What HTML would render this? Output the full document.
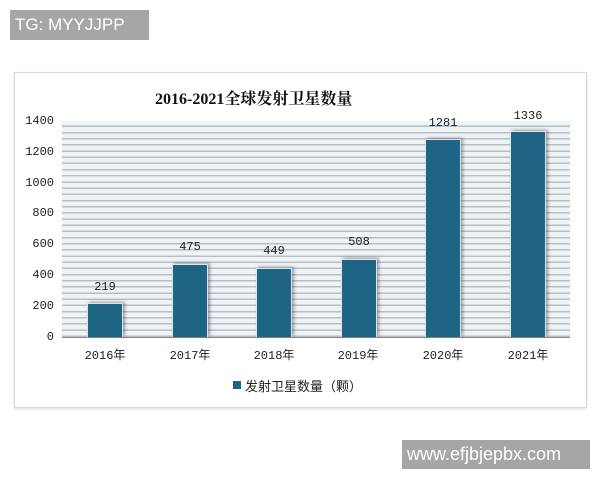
<!DOCTYPE html>
<html><head><meta charset="utf-8"><style>
body{margin:0;width:600px;height:480px;background:#fff;position:relative;overflow:hidden;font-family:"Liberation Sans","Noto Sans CJK SC",sans-serif;}
.wm1{position:absolute;left:10px;top:10px;width:139px;height:30px;background:#a6a6a6;color:#fff;font-size:17px;line-height:30px;padding-left:5px;box-sizing:border-box;}
.wm2{position:absolute;left:402px;top:440px;width:188px;height:29px;background:#a6a6a6;color:#fff;font-size:18px;line-height:29px;padding-left:5px;box-sizing:border-box;}
.card{position:absolute;left:14px;top:72px;width:573px;height:336px;border:1px solid #d8d8d8;box-sizing:border-box;box-shadow:0 1px 2px #ddd;}
.plot{position:absolute;left:62px;top:121px;width:508px;height:216px;background:repeating-linear-gradient(to top,#b9bec3 0,#b9bec3 1.5px,#eef3f6 1.5px,#eef3f6 6.17px);border-bottom:1px solid #888;}
.bar{position:absolute;bottom:0;width:36px;background:#1e6484;box-shadow:2px -1px 3px rgba(0,0,0,.35);border:1px solid #d9e6ee;border-bottom:none;box-sizing:border-box;}
.lbl{position:absolute;width:60px;text-align:center;font-size:12px;color:#222;font-family:"Liberation Mono","Noto Sans CJK SC",monospace;}
.yt{position:absolute;left:20px;width:34px;text-align:right;font-size:12px;color:#222;font-family:"Liberation Mono",monospace;}
.xt{position:absolute;top:346px;width:70px;text-align:center;font-size:12px;color:#222;font-family:"Liberation Mono","Noto Sans CJK SC",monospace;}
</style></head><body>
<div class="wm1">TG: MYYJJPP</div>
<div class="card"></div>
<div style="position:absolute;left:155px;top:86px;font-size:16px;font-weight:bold;color:#111;font-family:'Liberation Serif','Noto Serif CJK SC',serif;">2016-2021全球发射卫星数量</div>
<div class="plot">
<div class="bar" style="left:25px;height:34px"></div>
<div class="bar" style="left:110px;height:73px"></div>
<div class="bar" style="left:194px;height:69px"></div>
<div class="bar" style="left:279px;height:78px"></div>
<div class="bar" style="left:363px;height:198px"></div>
<div class="bar" style="left:448px;height:206px"></div>
</div>
<div class="lbl" style="left:75px;top:280px">219</div>
<div class="lbl" style="left:160px;top:240px">475</div>
<div class="lbl" style="left:244px;top:244px">449</div>
<div class="lbl" style="left:329px;top:235px">508</div>
<div class="lbl" style="left:413px;top:116px">1281</div>
<div class="lbl" style="left:498px;top:109px">1336</div>
<div class="yt" style="top:114px">1400</div>
<div class="yt" style="top:145px">1200</div>
<div class="yt" style="top:176px">1000</div>
<div class="yt" style="top:206px">800</div>
<div class="yt" style="top:237px">600</div>
<div class="yt" style="top:268px">400</div>
<div class="yt" style="top:299px">200</div>
<div class="yt" style="top:330px">0</div>
<div class="xt" style="left:70px">2016年</div>
<div class="xt" style="left:155px">2017年</div>
<div class="xt" style="left:239px">2018年</div>
<div class="xt" style="left:323px">2019年</div>
<div class="xt" style="left:408px">2020年</div>
<div class="xt" style="left:493px">2021年</div>
<div style="position:absolute;left:233px;top:381px;width:8px;height:8px;background:#1e6484"></div>
<div style="position:absolute;left:245px;top:376px;font-size:13px;color:#222">发射卫星数量（颗）</div>
<div class="wm2">www.efjbjepbx.com</div>
</body></html>
